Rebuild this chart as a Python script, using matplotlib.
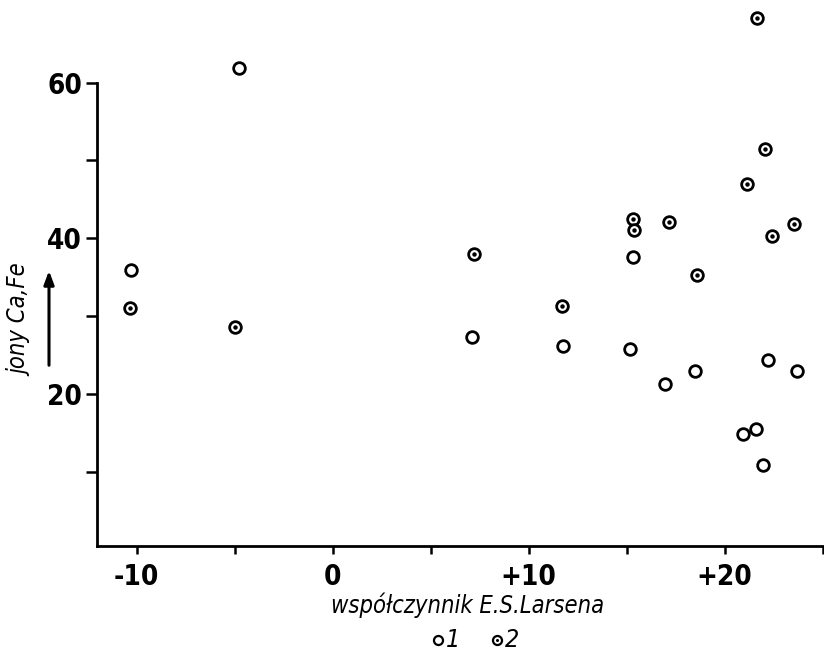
import matplotlib
matplotlib.use("Agg")
import matplotlib.pyplot as plt
from matplotlib.ticker import FixedLocator

# ---- data ----
x_open = [-4.76, -10.28, 7.09, 11.73, 15.34, 15.15, 16.97, 18.49, 22.22, 23.68, 20.92, 21.58, 21.98]
y_open = [61.9, 35.9, 27.3, 26.1, 37.6, 25.8, 21.3, 22.9, 24.3, 22.9, 14.9, 15.5, 10.9]

x_dot = [-10.31, -5.0, 7.23, 11.70, 15.34, 15.37, 17.17, 18.57, 21.16, 22.39, 23.55, 21.66, 22.07]
y_dot = [31.0, 28.6, 38.0, 31.3, 42.5, 41.1, 42.1, 35.3, 46.9, 40.3, 41.8, 68.3, 51.4]

x_major = [-10, 0, 10, 20]
x_major_labels = ["-10", "0", "+10", "+20"]
x_minor = [-5, 5, 15, 25]
y_major = [20, 40, 60]
y_major_labels = ["20", "40", "60"]
y_minor = [10, 30, 50]

xlabel = "współczynnik E.S.Larsena"
ylabel = "jony Ca,Fe"
legend_labels = ["1", "2"]

# ---- figure ----
FAM = ["DejaVu Sans"]
fig = plt.figure(figsize=(8.24, 6.62), dpi=100)
ax = fig.add_axes([97.3 / 824, (662 - 546) / 662, (822.7 - 97.3) / 824, 546 / 662])
ax.set_xlim(-12, 25)
ax.set_ylim(0.45, 70.6)

ms, mew = 8.4, 2.0
ax.plot(x_open, y_open, ls="none", marker="o", ms=ms, mfc="white", mec="black", mew=mew, clip_on=False)
ax.plot(x_dot, y_dot, ls="none", marker="o", ms=ms, mfc="white", mec="black", mew=mew, clip_on=False)
ax.plot(x_dot, y_dot, ls="none", marker="o", ms=3.2, mfc="black", mec="black", mew=0, clip_on=False)

for s in ("top", "right"):
    ax.spines[s].set_visible(False)
for s in ("left", "bottom"):
    ax.spines[s].set_linewidth(2.0)
ax.spines["left"].set_bounds(0.45, 60)

ax.set_xticks(x_major)
ax.set_xticklabels(x_major_labels)
ax.xaxis.set_minor_locator(FixedLocator(x_minor))
ax.set_yticks(y_major)
ax.set_yticklabels(y_major_labels)
ax.yaxis.set_minor_locator(FixedLocator(y_minor))

ax.tick_params(axis="x", which="both", direction="out", length=6, width=1.8, pad=6)
ax.tick_params(axis="y", which="both", direction="out", length=8, width=1.8, pad=3)
for lab in ax.get_xticklabels() + ax.get_yticklabels():
    lab.set_fontfamily(FAM)
    lab.set_fontstretch("condensed")
    lab.set_fontsize(20)
    lab.set_fontweight("bold")

fig.text(468 / 824, 1 - 605 / 662, xlabel, ha="center", va="center",
         fontsize=17, style="italic", family=FAM, stretch="condensed")
fig.text(20 / 824, 1 - 320 / 662, ylabel, ha="center", va="center", rotation=90,
         fontsize=17, style="italic", family=FAM, stretch="condensed")
fig.patches.append(matplotlib.patches.FancyArrowPatch(
    (49 / 824, 1 - 368 / 662), (49 / 824, 1 - 268 / 662), transform=fig.transFigure,
    arrowstyle="-|>,head_length=8,head_width=3", lw=2.2, color="black", mutation_scale=1))

# legend as figure text with markers
fy = 1 - 640 / 662
fig.lines.append(matplotlib.lines.Line2D([438 / 824], [fy], transform=fig.transFigure, ls="none",
                                         marker="o", ms=6.5, mfc="white", mec="black", mew=1.6))
fig.lines.append(matplotlib.lines.Line2D([497 / 824], [fy], transform=fig.transFigure, ls="none",
                                         marker="o", ms=6.5, mfc="white", mec="black", mew=1.6))
fig.lines.append(matplotlib.lines.Line2D([497 / 824], [fy], transform=fig.transFigure, ls="none",
                                         marker="o", ms=2.2, mfc="black", mec="black", mew=0))
fig.text(453 / 824, fy, legend_labels[0], ha="center", va="center", fontsize=18,
         style="italic", family=FAM, stretch="condensed")
fig.text(512 / 824, fy, legend_labels[1], ha="center", va="center", fontsize=18,
         style="italic", family=FAM, stretch="condensed")

fig.savefig("out.png", dpi=100, facecolor="white")
